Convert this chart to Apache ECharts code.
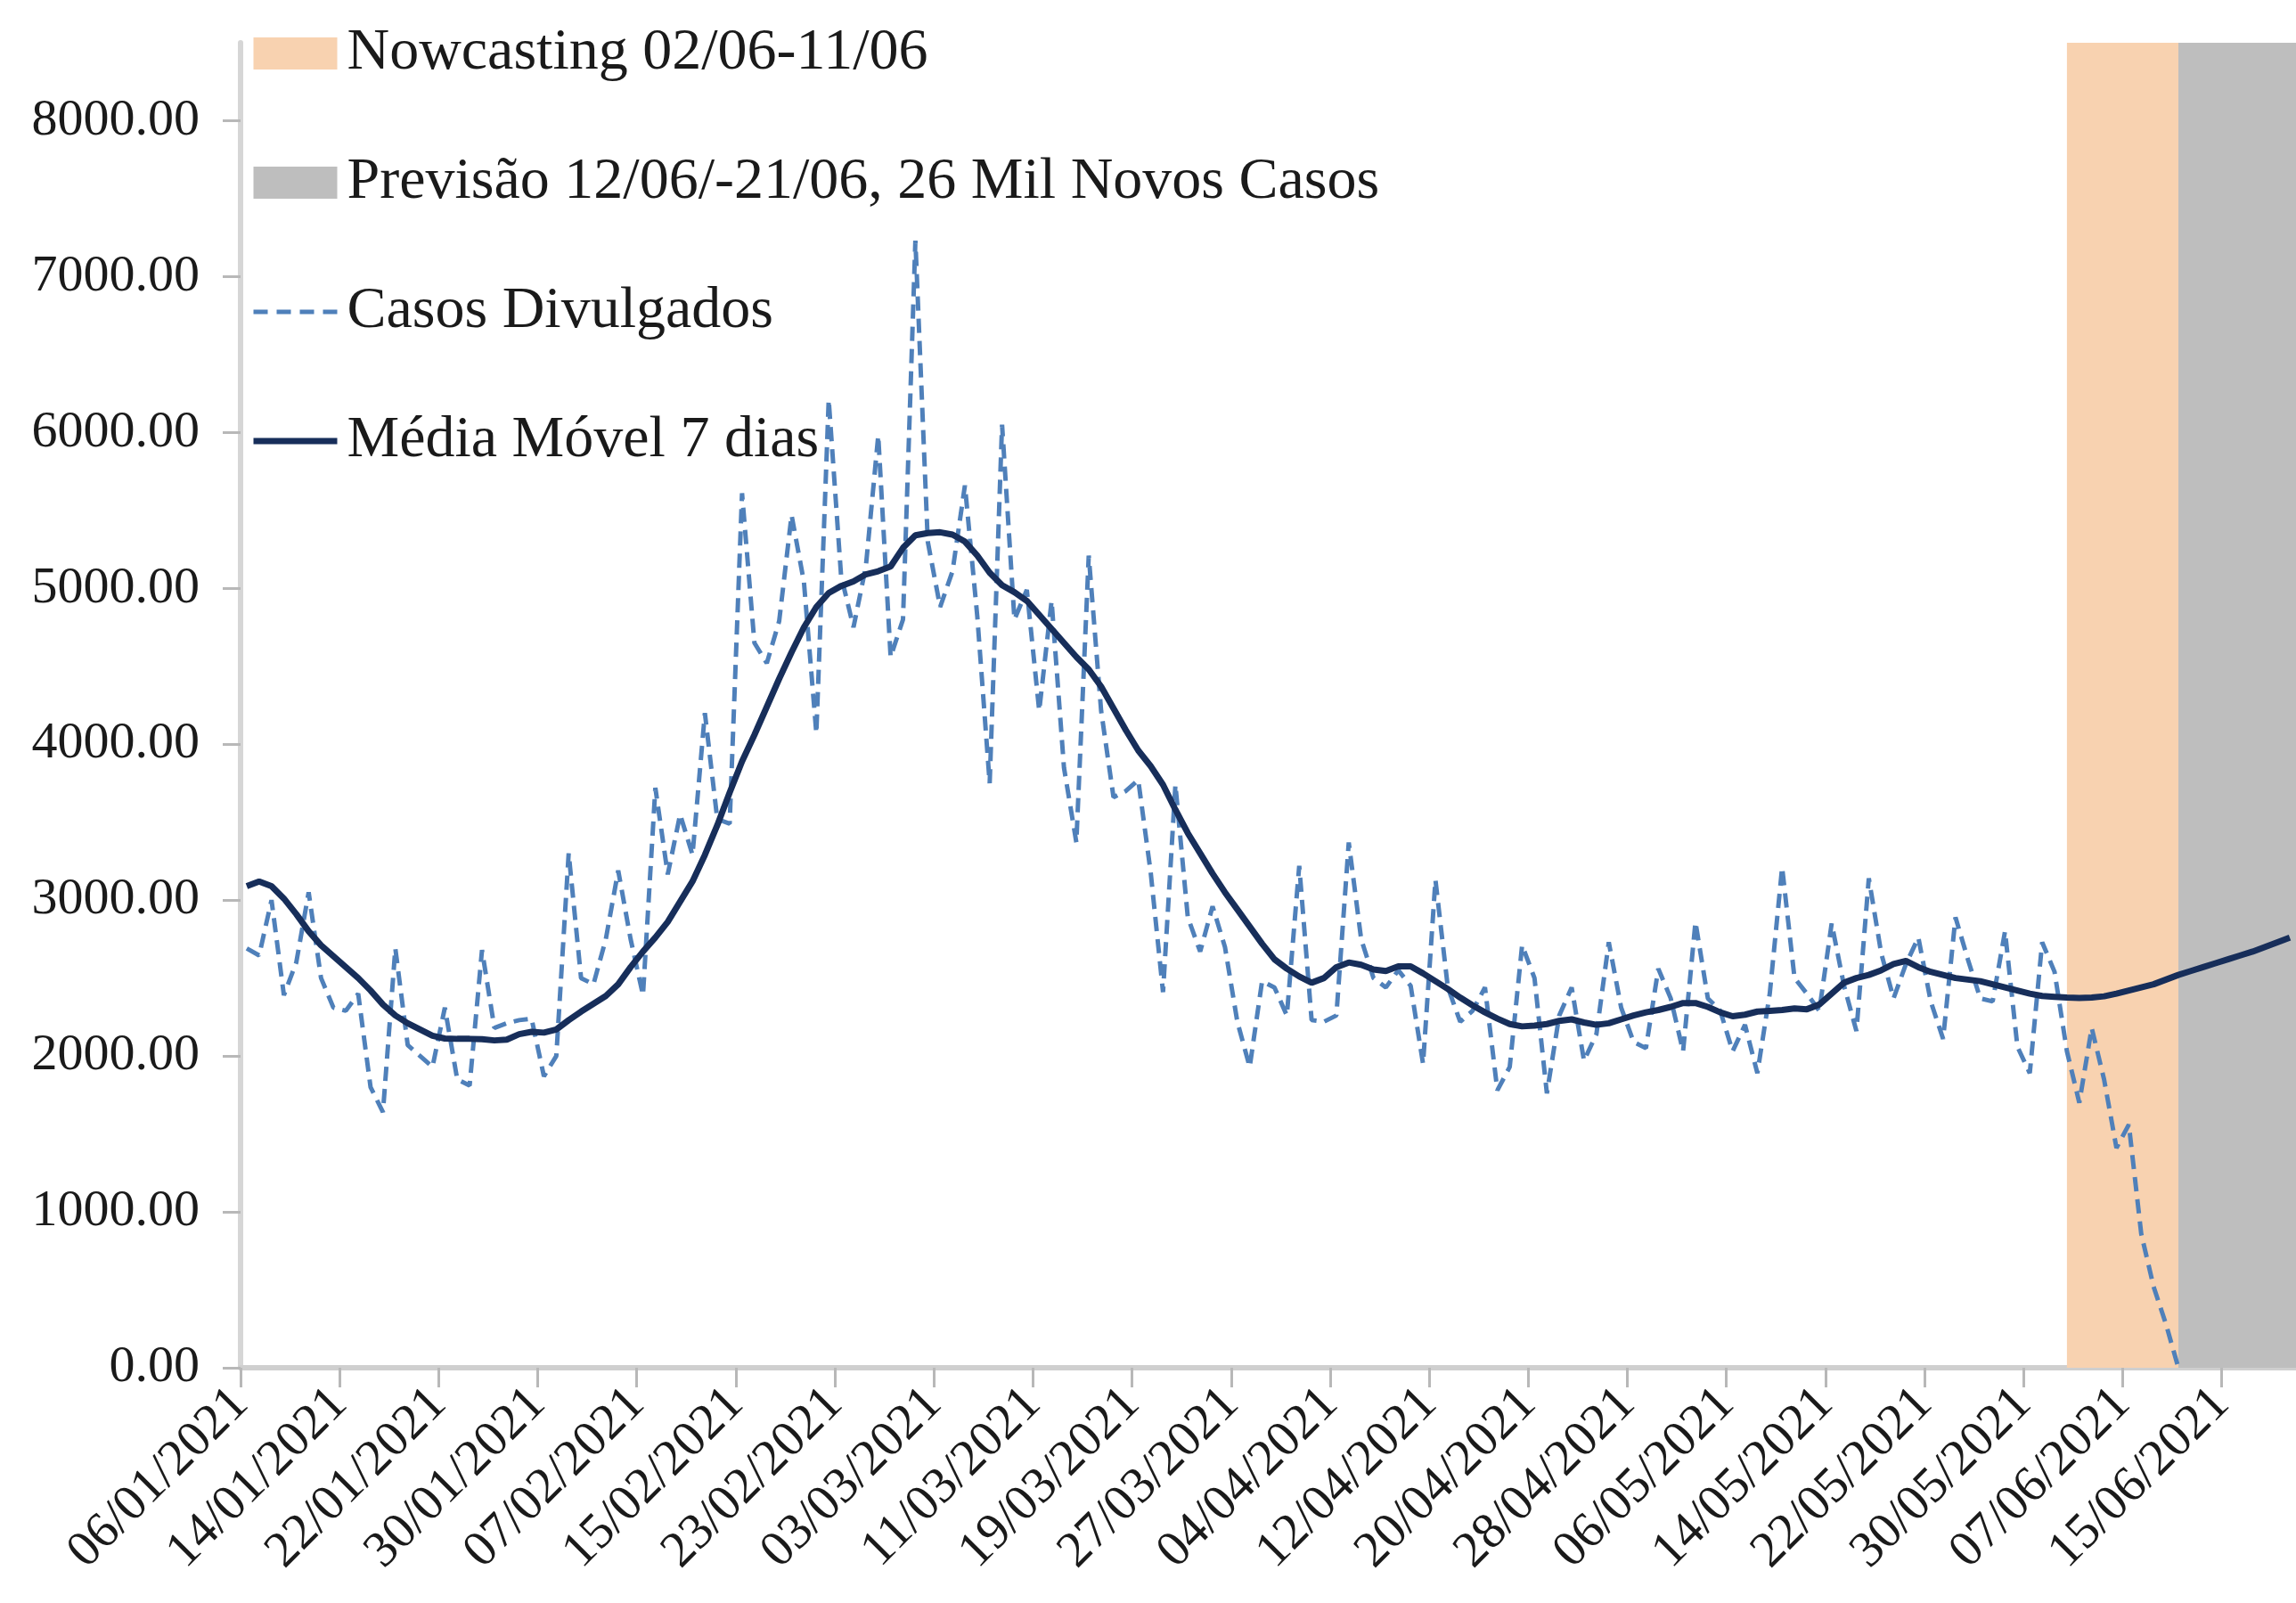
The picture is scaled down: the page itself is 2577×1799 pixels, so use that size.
<!DOCTYPE html>
<html>
<head>
<meta charset="utf-8">
<script src="https://cdn.jsdelivr.net/npm/echarts@6/dist/echarts.min.js"></script>
<style>
html,body{margin:0;padding:0;background:#fff;}
#chart{width:2577px;height:1799px;}
</style>
</head>
<body>
<div id="chart"></div>
<script>
// Daily series, day 0 = 06/01/2021
const tickLabels = ['06/01/2021','14/01/2021','22/01/2021','30/01/2021','07/02/2021','15/02/2021','23/02/2021','03/03/2021','11/03/2021','19/03/2021','27/03/2021','04/04/2021','12/04/2021','20/04/2021','28/04/2021','06/05/2021','14/05/2021','22/05/2021','30/05/2021','07/06/2021','15/06/2021'];
const tickDays = [0,8,16,24,32,40,48,56,64,72,80,88,96,104,112,120,128,136,144,152,160];
const yTicks = [0,1000,2000,3000,4000,5000,6000,7000,8000];

const casosDivulgados = [
2690,2645,3000,2390,2600,3050,2500,2310,2290,2400,
1800,1640,2690,2070,2000,1930,2310,1850,1810,2680,
2180,2210,2230,2240,1870,2000,3300,2500,2460,2750,
3190,2750,2390,3720,3165,3550,3290,4200,3520,3490,
5610,4650,4520,4790,5470,5040,4070,6210,5080,4750,
5140,5980,4560,4800,7230,5300,4880,5110,5660,4820,
3750,6050,4800,4990,4215,4920,3850,3370,5210,4215,
3660,3700,3770,3180,2410,3740,2890,2670,2960,2700,
2220,1930,2480,2440,2260,3220,2230,2220,2260,3370,
2750,2500,2440,2550,2450,1950,3130,2440,2220,2290,
2440,1780,1930,2710,2500,1760,2260,2440,1970,2140,
2730,2310,2090,2050,2560,2370,2030,2860,2370,2290,
2030,2200,1890,2400,3210,2500,2400,2290,2850,2450,
2160,3140,2660,2370,2590,2760,2350,2110,2890,2620,
2370,2350,2800,2060,1890,2730,2540,2030,1700,2180,
1850,1410,1560,860,520,280,0
];

const mediaMovel = [
3090,3120,3090,3010,2910,2800,2710,2640,2570,2500,
2420,2330,2260,2210,2170,2130,2112,2110,2110,2108,
2100,2105,2140,2155,2150,2170,2230,2285,2335,2385,
2460,2570,2670,2760,2860,2990,3120,3290,3480,3690,
3890,4060,4240,4420,4590,4750,4880,4970,5015,5045,
5090,5110,5140,5260,5340,5355,5360,5345,5300,5210,
5100,5020,4975,4920,4830,4740,4650,4560,4480,4370,
4230,4090,3960,3860,3740,3580,3430,3300,3170,3050,
2940,2830,2720,2620,2560,2510,2470,2500,2570,2600,
2585,2555,2545,2575,2575,2530,2480,2430,2375,2325,
2280,2240,2205,2190,2195,2205,2225,2235,2215,2200,
2210,2235,2260,2280,2295,2315,2340,2340,2315,2280,
2255,2265,2285,2290,2295,2305,2300,2330,2400,2470,
2500,2520,2550,2590,2610,2570,2540,2520,2500,2490,
2480,2460,2440,2420,2400,2385,2380,2375,2372,2375,
2383,2400,2420,2440,2460,2490,2520,2545,2570,2595,
2620,2645,2670,2700,2730,2760
];

const nowcastSpan = [147.5, 156.5];
const forecastSpan = [156.5, 166];

const names = ['Nowcasting 02/06-11/06', 'Previsão 12/06/-21/06, 26 Mil Novos Casos', 'Casos Divulgados', 'Média Móvel 7 dias'];

const serif = '"Liberation Serif", "Times New Roman", serif';
const orange = '#F8D2B0';
const grey = '#BEBEBE';
const dashBlue = '#4F80BA';
const navy = '#172E5A';
const hidden = {color: 'rgba(0,0,0,0)', borderWidth: 0, opacity: 0};

const chart = echarts.init(document.getElementById('chart'), null, {renderer: 'canvas'});

const option = {
  animation: false,
  backgroundColor: '#ffffff',
  grid: {left: 270, right: 0, top: 48, bottom: 264, containLabel: false},
  legend: {
    orient: 'vertical',
    left: 276,
    top: 22,
    itemWidth: 94,
    itemHeight: 36,
    itemGap: 79,
    textStyle: {fontFamily: serif, fontSize: 66, lineHeight: 66, color: '#1a1a1a', padding: [0, 0, 0, 6]},
    data: [
      {name: names[0], icon: 'rect', itemStyle: {color: orange}},
      {name: names[1], icon: 'rect', itemStyle: {color: grey}},
      {name: names[2], itemStyle: hidden, lineStyle: {color: dashBlue, width: 5, type: [16, 10], opacity: 1}},
      {name: names[3], itemStyle: hidden, lineStyle: {color: navy, width: 7, opacity: 1}}
    ]
  },
  xAxis: {
    type: 'value',
    min: 0,
    max: 166,
    interval: 8,
    splitLine: {show: false},
    axisLine: {show: true, onZero: true, lineStyle: {color: '#CFCFCF', width: 6}},
    axisTick: {show: true, length: 22, customValues: tickDays, lineStyle: {color: '#B8B8B8', width: 3}},
    axisLabel: {
      customValues: tickDays,
      formatter: function (v) { return tickLabels[Math.round(v / 8)] || ''; },
      rotate: 45,
      margin: 32,
      fontFamily: serif,
      fontSize: 57,
      color: '#1a1a1a'
    }
  },
  yAxis: {
    type: 'value',
    min: 0,
    max: 8500,
    interval: 1000,
    splitLine: {show: false},
    axisLine: {show: true, lineStyle: {color: '#D6D6D6', width: 6}},
    axisTick: {show: true, length: 20, customValues: yTicks, lineStyle: {color: '#B8B8B8', width: 3}},
    axisLabel: {
      customValues: yTicks,
      formatter: function (v) { return v.toFixed(2); },
      margin: 46,
      fontFamily: serif,
      fontSize: 58,
      color: '#1a1a1a'
    }
  },
  series: [
    {
      name: names[0],
      type: 'line',
      data: [],
      color: orange,
      markArea: {
        silent: true,
        itemStyle: {color: orange, opacity: 1},
        data: [[{xAxis: nowcastSpan[0]}, {xAxis: nowcastSpan[1]}]]
      },
      z: 1
    },
    {
      name: names[1],
      type: 'line',
      data: [],
      color: grey,
      markArea: {
        silent: true,
        itemStyle: {color: grey, opacity: 1},
        data: [[{xAxis: forecastSpan[0]}, {xAxis: forecastSpan[1]}]]
      },
      z: 1
    },
    {
      name: names[2],
      type: 'line',
      symbol: 'none',
      color: dashBlue,
      lineStyle: {color: dashBlue, width: 5, type: [16, 9]},
      data: casosDivulgados.map(function (v, i) { return [i + 0.5, v]; }),
      z: 3
    },
    {
      name: names[3],
      type: 'line',
      symbol: 'none',
      color: navy,
      lineStyle: {color: navy, width: 7},
      data: mediaMovel.map(function (v, i) { return [i + 0.5, v]; }),
      z: 4
    }
  ]
};
chart.setOption(option);
</script>
</body>
</html>
